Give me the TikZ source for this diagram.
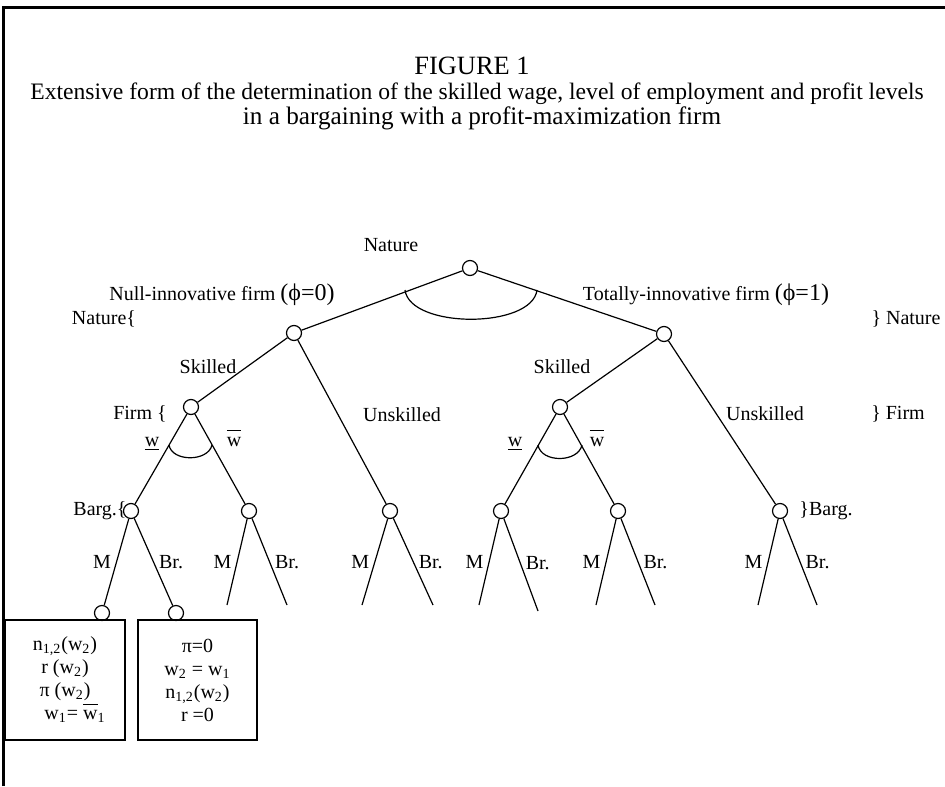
\documentclass[tikz,border=0pt]{standalone}
\usepackage{fontspec}
\setmainfont{Liberation Serif}
\usepackage{tikz}
\usetikzlibrary{positioning}

\newcommand{\wlow}{\underline{w}}
\newcommand{\whigh}{$\overline{\mbox{\vphantom{I}w}}$}

\begin{document}
\begin{tikzpicture}[x=0.5pt,y=-0.5pt,
        dec/.style={circle,draw,line width=0.6pt,minimum size=7.5pt,inner sep=0pt},
        lbl/.style={font=\fontsize{10}{12}\selectfont,inner sep=1pt},
        side/.style={font=\fontsize{10}{12}\selectfont,inner sep=2.5pt},
        branch/.style={line width=0.6pt},
        outcome/.style={draw,line width=0.6pt,minimum width=60pt,minimum height=60pt,inner sep=0pt,align=center,font=\fontsize{10}{11.5}\selectfont}]
        \useasboundingbox (0,0) rectangle (945,786);
        \draw[line width=1.5pt] (3.5,786) -- (3.5,7.5) -- (945,7.5);
        \node[font=\fontsize{13.2}{15}\selectfont] (fig) at (472,66) {FIGURE 1};
        \node[font=\fontsize{11.8}{14}\selectfont] (ttla) at (477,94) {Extensive form of the determination of the skilled wage, level of employment and profit levels};
        \node[font=\fontsize{12.6}{14}\selectfont] (ttlb) at (482,118) {in a bargaining with a profit-maximization firm};

        \node[dec] (root) at (470,268) {};
        \node[dec] (nl) at (294,333) {};
        \node[dec] (nr) at (664,334) {};
        \node[dec] (fl) at (191,407) {};
        \node[dec] (fr) at (560,407) {};
        \node[dec] (bl1) at (131,511) {};
        \node[dec] (bl2) at (249,511) {};
        \node[dec] (bl3) at (390,511) {};
        \node[dec] (br1) at (501,511) {};
        \node[dec] (br2) at (618,511) {};
        \node[dec] (br3) at (780,511) {};
        \node[dec] (el1) at (102,613) {};
        \node[dec] (el2) at (176,613) {};
        \coordinate (mb2) at (227,605);
        \coordinate (rb2) at (287,605);
        \coordinate (mb3) at (362,605);
        \coordinate (rb3) at (433,605);
        \coordinate (mr1) at (479,605);
        \coordinate (rr1) at (538,611);
        \coordinate (mr2) at (596,605);
        \coordinate (rr2) at (655,605);
        \coordinate (mr3) at (758,605);
        \coordinate (rr3) at (817,605);

        \draw[branch] (root) -- (nl);
        \draw[branch] (root) -- (nr);
        \draw[branch] (nl) -- (fl);
        \draw[branch] (nl) -- (bl3);
        \draw[branch] (nr) -- (fr);
        \draw[branch] (nr) -- (br3);
        \draw[branch] (fl) -- (bl1);
        \draw[branch] (fl) -- (bl2);
        \draw[branch] (fr) -- (br1);
        \draw[branch] (fr) -- (br2);
        \draw[branch] (bl1) -- node[side,left] {M} (el1);
        \draw[branch] (bl1) -- node[side,right] {Br.} (el2);
        \draw[branch] (bl2) -- node[side,left] {M} (mb2);
        \draw[branch] (bl2) -- node[side,right] {Br.} (rb2);
        \draw[branch] (bl3) -- node[side,left] {M} (mb3);
        \draw[branch] (bl3) -- node[side,right] {Br.} (rb3);
        \draw[branch] (br1) -- node[side,left] {M} (mr1);
        \draw[branch] (br1) -- node[side,right,pos=0.48] {Br.} (rr1);
        \draw[branch] (br2) -- node[side,left] {M} (mr2);
        \draw[branch] (br2) -- node[side,right] {Br.} (rr2);
        \draw[branch] (br3) -- node[side,left] {M} (mr3);
        \draw[branch] (br3) -- node[side,right] {Br.} (rr3);

        \draw[branch] (405,290) .. controls (410,329) and (532,329) .. (537,290);
        \draw[branch] (169,445) .. controls (172,462) and (208,462) .. (212,445);
        \draw[branch] (538,445) .. controls (541,463) and (578,463) .. (582,445);

        \node[lbl] (nat) at (391,245) {Nature};
        \node[lbl] (nulf) at (222,295) {Null-innovative firm \fontsize{12}{14}\selectfont(ϕ=0)};
        \node[lbl] (totf) at (706,295) {Totally-innovative firm \fontsize{12}{14}\selectfont(ϕ=1)};
        \node[lbl] (natl) at (104,319) {Nature\{};
        \node[lbl] (natr) at (906,319) {\} Nature};
        \node[lbl] (skl) at (208,367) {Skilled};
        \node[lbl] (skr) at (562,367) {Skilled};
        \node[lbl] (unl) at (402,415) {Unskilled};
        \node[lbl] (unr) at (765,414) {Unskilled};
        \node[lbl] (frml) at (140,414) {Firm \{};
        \node[lbl] (frmr) at (898,414) {\} Firm};
        \node[lbl] (bargl) at (100,511) {Barg.\{};
        \node[lbl] (bargr) at (826,511) {\}Barg.};
        \node[lbl,anchor=base] (wla) at (152,446) {\wlow};
        \node[lbl,anchor=base] (wha) at (234,446) {\whigh};
        \node[lbl,anchor=base] (wlb) at (515,446) {\wlow};
        \node[lbl,anchor=base] (whb) at (597,446) {\whigh};

        \node[outcome] (oa) at (65,680) {n\textsubscript{1,2}(w\textsubscript{2})\\r (w\textsubscript{2})\\π (w\textsubscript{2})\\\hspace{1em}w\textsubscript{1}= \whigh\textsubscript{1}};
        \node[outcome,minimum width=59.5pt] (ob) at (197.5,680) {π=0\\w\textsubscript{2} = w\textsubscript{1}\\n\textsubscript{1,2}(w\textsubscript{2})\\r =0};
    \end{tikzpicture}
\end{document}
